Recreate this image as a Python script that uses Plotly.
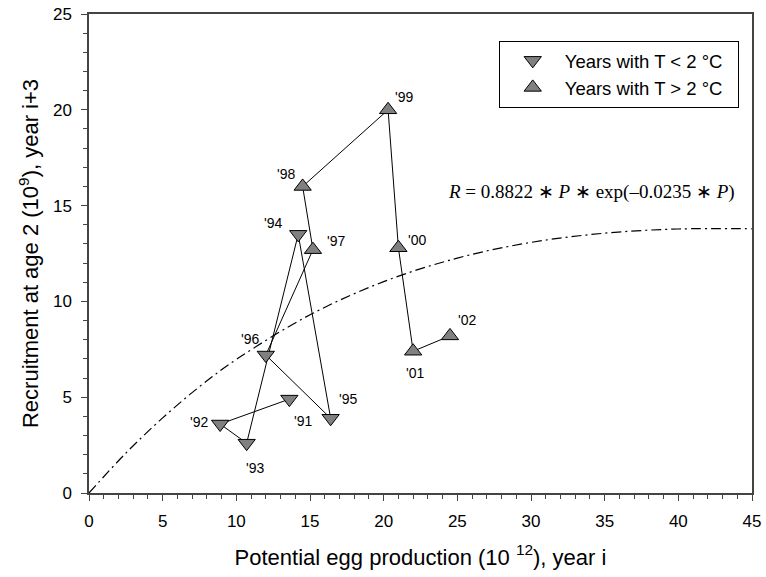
import plotly.graph_objects as go

# ---- data ----
years = ["'91", "'92", "'93", "'94", "'95", "'96", "'97", "'98", "'99", "'00", "'01", "'02"]
egg_production = [13.6, 8.9, 10.7, 14.2, 16.4, 12.0, 15.2, 14.5, 20.3, 21.0, 22.0, 24.5]
recruitment = [4.9, 3.6, 2.6, 13.5, 3.9, 7.2, 12.7, 16.0, 20.0, 12.8, 7.4, 8.2]
cold_year = [True, True, True, True, True, True, False, False, False, False, False, False]

# stock-recruitment curve, values
curve_p = [0, 2.5, 5, 7.5, 10, 15, 20, 25, 30, 35, 40, 45]
curve_r = [0, 2.08, 3.92, 5.55, 6.97, 9.30, 11.03, 12.26, 13.08, 13.56, 13.78, 13.79]

x_ticks = [0, 5, 10, 15, 20, 25, 30, 35, 40, 45]
y_ticks = [0, 5, 10, 15, 20, 25]

# label offsets (px) for the year annotations
label_dx = [14, -21, 8, -25, 17, -16, 23, -17, 16, 19, 2, 17]
label_dy = [-22, 2, -25, 11, 19, 16, 9, 12, 13, 8, -22, 16]

FONT = "Liberation Sans, Arial, sans-serif"
AXC = "#444444"
PAD = "\u00a0\u00a0"

fig = go.Figure()

fig.add_trace(go.Scatter(
    x=curve_p, y=curve_r, mode="lines", line_shape="spline",
    line=dict(color="black", width=1.2, dash="10px,4px,2px,4px"),
    showlegend=False, hoverinfo="skip"))

fig.add_trace(go.Scatter(
    x=egg_production, y=recruitment, mode="lines",
    line=dict(color="black", width=1), showlegend=False, hoverinfo="skip"))

cx = [p for p, c in zip(egg_production, cold_year) if c]
cy = [r for r, c in zip(recruitment, cold_year) if c]
wx = [p for p, c in zip(egg_production, cold_year) if not c]
wy = [r for r, c in zip(recruitment, cold_year) if not c]

marker_style = dict(size=15, color="#808080", line=dict(color="black", width=1))
fig.add_trace(go.Scatter(x=cx, y=cy, mode="markers", name="Years with T < 2 °C" + PAD,
                         marker=dict(symbol="triangle-down", **marker_style)))
fig.add_trace(go.Scatter(x=wx, y=wy, mode="markers", name="Years with T > 2 °C" + PAD,
                         marker=dict(symbol="triangle-up", **marker_style)))

for yr, p, r, dx, dy in zip(years, egg_production, recruitment, label_dx, label_dy):
    fig.add_annotation(x=p, y=r, text=yr, showarrow=False, xshift=dx, yshift=dy,
                       font=dict(family=FONT, size=14, color="black"))

fig.add_annotation(
    x=34.1, y=15.7, showarrow=False,
    text="<i>R</i> = 0.8822 \u2217 <i>P</i> \u2217 exp(\u20130.0235 \u2217 <i>P</i>)",
    font=dict(family="Liberation Serif, Times New Roman, serif", size=19, color="black"))

axis_common = dict(
    showline=True, linecolor=AXC, linewidth=1.5, mirror=True,
    ticks="outside", ticklen=6, tickwidth=1.2, tickcolor=AXC,
    showgrid=False, zeroline=False, automargin=False,
    tickfont=dict(family=FONT, size=17, color="black"),
    minor=dict(ticks="outside", ticklen=4, tickwidth=1.2, tickcolor=AXC, dtick=1),
)

fig.update_xaxes(range=[0, 45], tickvals=x_ticks, ticktext=[str(v) for v in x_ticks],
                 ticklabelstandoff=6,
                 title=dict(text="Potential egg production (10 <sup>12</sup>), year i",
                            font=dict(family=FONT, size=22, color="black"), standoff=19),
                 **axis_common)
fig.update_yaxes(range=[0, 25], tickvals=y_ticks, ticktext=[str(v) for v in y_ticks],
                 ticklabelstandoff=6,
                 title=dict(text="Recruitment at age 2 (10<sup>9</sup>), year i+3",
                            font=dict(family=FONT, size=22, color="black"), standoff=8),
                 **axis_common)

fig.update_layout(
    width=766, height=577,
    margin=dict(l=89, r=14, t=14, b=84),
    plot_bgcolor="white", paper_bgcolor="white",
    showlegend=True,
    legend=dict(x=0.98, y=0.944, xanchor="right", yanchor="top",
                bgcolor="white", bordercolor="black", borderwidth=1,
                font=dict(family=FONT, size=18.5, color="black"),
                itemwidth=54, indentation=1, tracegroupgap=0),
)

fig.write_html("out.html", config={"displayModeBar": False},
               post_script="document.body.style.margin='0px';document.body.style.overflow='hidden';")
